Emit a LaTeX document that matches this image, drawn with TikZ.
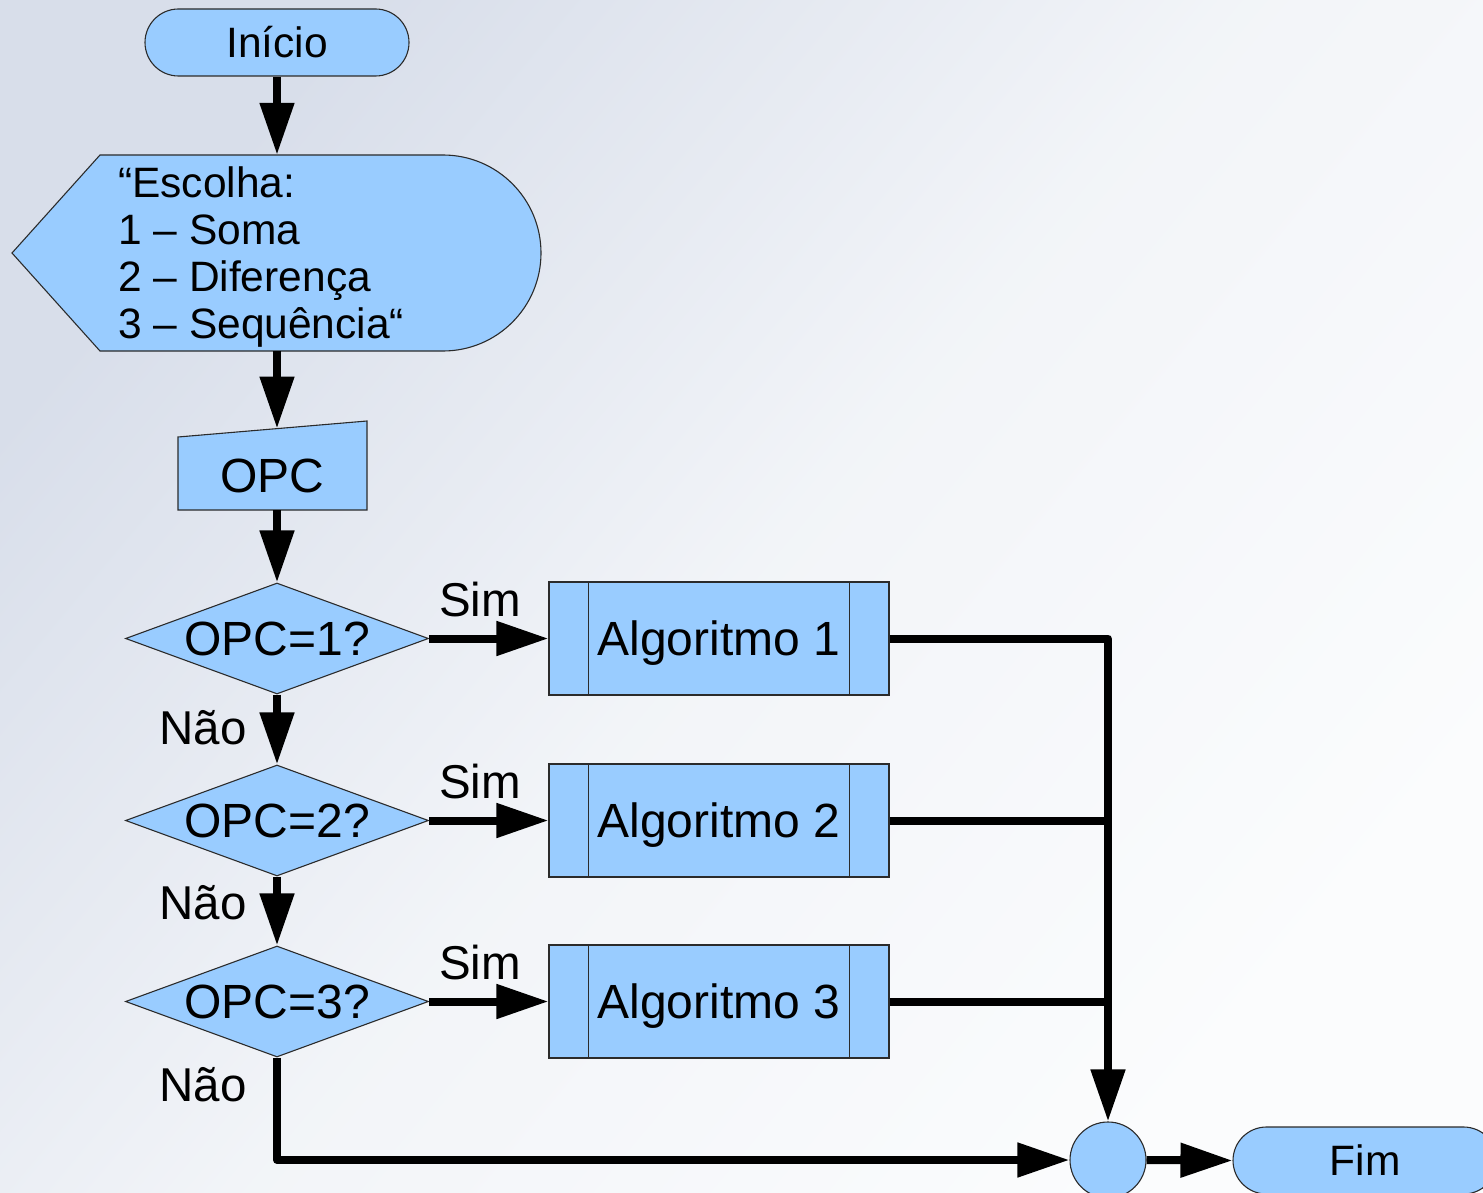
\documentclass[tikz,border=0pt]{standalone}
\usepackage{fontspec}
\setmainfont{Liberation Sans}
\usetikzlibrary{arrows.meta,shapes.geometric}
\definecolor{boxfill}{HTML}{99CCFF}
\definecolor{edgecol}{HTML}{2B2B2B}
\definecolor{bgA}{HTML}{D8DEEA}
\definecolor{bgB}{HTML}{FBFCFD}
\begin{document}
\begin{tikzpicture}[x=1pt,y=-1pt,
  shapebox/.style={fill=boxfill, draw=edgecol, line width=1.1pt},
  term/.style={shapebox, minimum width=264pt, minimum height=67pt,
    rounded corners=33.5pt, inner sep=0pt, font=\fontsize{42.5}{50}\selectfont},
  decision/.style={shapebox, diamond, aspect=2.73, minimum width=303pt,
    minimum height=111pt, inner sep=0pt, font=\fontsize{48}{56}\selectfont},
  procbox/.style={shapebox, minimum width=340pt, minimum height=113pt,
    inner sep=0pt, text depth=0pt, font=\fontsize{48}{56}\selectfont},
  plain/.style={inner sep=0pt, font=\fontsize{47.5}{56}\selectfont},
  flow/.style={line width=8pt, line join=round,
    -{Triangle[length=52pt,width=33pt]}},
  link/.style={line width=8pt, line join=round},
]
% page and background
\path[use as bounding box] (0,0) rectangle (1483,1193);
\clip (0,0) rectangle (1483,1193);
\shade[top color=bgA, bottom color=bgB, middle color=bgB!75!bgA, shading angle=50]
  (0,0) rectangle (1483,1193);

% start
\node[term] (ini) at (277,42.5) {Início};

% display of the menu
\node[inner sep=0pt, minimum width=529pt, minimum height=196pt] (disp) at (276.5,253) {};
\draw[shapebox] (100,155) -- (443,155) arc[start angle=-90, end angle=90, radius=98]
  -- (100,351) -- (12,253) -- cycle;
\node[inner sep=0pt, anchor=north west, align=left,
  font=\fontsize{42.5}{47}\selectfont] (menu) at (118,167)
  {“Escolha:\\1 – Soma\\2 – Diferença\\3 – Sequência“};

% manual input of OPC
\node[inner sep=0pt, minimum width=189pt, minimum height=89pt] (inp) at (272.5,465.5) {};
\draw[shapebox] (178,437) -- (367,421) -- (367,510) -- (178,510) -- cycle;
\node[inner sep=0pt, font=\fontsize{48}{56}\selectfont] (inptxt) at (272.5,476) {OPC};
\coordinate (inpTop) at (277,428.5);

% decisions
\node[decision] (d1) at (277,638.5) {OPC=1?};
\node[decision] (d2) at (277,820.5) {OPC=2?};
\node[decision] (d3) at (277,1001.5) {OPC=3?};

% predefined processes
\foreach \i/\y in {1/638.5, 2/820.5, 3/1001.5} {
  \node[procbox] (a\i) at (719,\y) {Algoritmo \i};
  \draw[draw=edgecol, line width=1.1pt]
    ([xshift=40pt]a\i.north west) -- ([xshift=40pt]a\i.south west)
    ([xshift=-40pt]a\i.north east) -- ([xshift=-40pt]a\i.south east);
}

% connector and end
\node[shapebox, circle, minimum size=76pt, inner sep=0pt] (jn) at (1108,1160) {};
\node[term] (fim) at (1365,1160.5) {Fim};

% labels
\node[plain, anchor=base] (s1) at (480,616) {Sim};
\node[plain, anchor=base] (s2) at (480,798) {Sim};
\node[plain, anchor=base] (s3) at (480,979) {Sim};
\node[plain, anchor=base] (n1) at (203,744) {Não};
\node[plain, anchor=base] (n2) at (203,919) {Não};
\node[plain, anchor=base] (n3) at (203,1101) {Não};

% flow lines
\draw[flow] (ini.south) -- (ini.south |- disp.north);
\draw[flow] (ini.south |- disp.south) -- (inpTop);
\draw[flow] (277,510) -- (d1.north);
\draw[flow] (d1.south) -- (d2.north);
\draw[flow] (d2.south) -- (d3.north);
\draw[flow] (d1.east) -- (a1.west);
\draw[flow] (d2.east) -- (a2.west);
\draw[flow] (d3.east) -- (a3.west);
\draw[flow] (a1.east) -| (jn.north);
\draw[link] (a2.east) -- (a2.east -| jn.north);
\draw[link] (a3.east) -- (a3.east -| jn.north);
\draw[flow] (d3.south) |- (jn.west);
\draw[flow] (jn.east) -- (fim.west);
\end{tikzpicture}
\end{document}
